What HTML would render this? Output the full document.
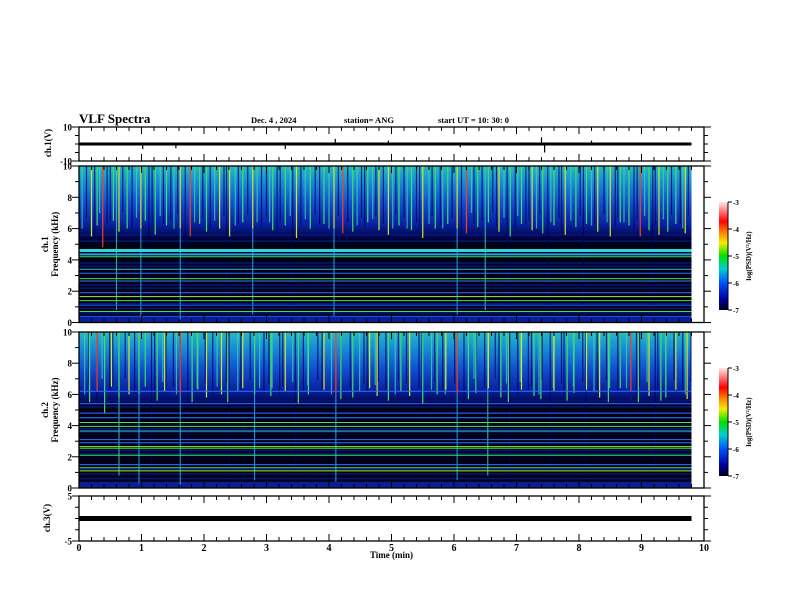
<!DOCTYPE html>
<html><head><meta charset="utf-8"><style>
html,body{margin:0;padding:0;background:#fff}
svg{display:block;font-family:"Liberation Serif",serif;font-weight:bold}
</style></head><body>
<svg id="c" width="792" height="612" viewBox="0 0 792 612">
<defs>
<linearGradient id="upper" x1="0" y1="1" x2="0" y2="0">
<stop offset="0" stop-color="#000040"/><stop offset="0.2" stop-color="#0820a0"/><stop offset="0.5" stop-color="#1050d0"/><stop offset="0.8" stop-color="#1890d8"/><stop offset="1" stop-color="#28b8c0"/></linearGradient>
<linearGradient id="cbar" x1="0" y1="1" x2="0" y2="0">
<stop offset="0" stop-color="#000020"/><stop offset="0.1" stop-color="#0000a0"/><stop offset="0.25" stop-color="#0050ff"/><stop offset="0.38" stop-color="#00d0d0"/><stop offset="0.5" stop-color="#00e000"/><stop offset="0.62" stop-color="#f0f000"/><stop offset="0.72" stop-color="#ff8000"/><stop offset="0.82" stop-color="#ff0000"/><stop offset="1" stop-color="#ffe8e8"/></linearGradient>
</defs>
<text x="79" y="123" font-size="13">VLF Spectra</text>
<text x="251" y="123" font-size="8.5">Dec. 4  , 2024</text>
<text x="344" y="123" font-size="8.5">station= ANG</text>
<text x="438" y="123" font-size="8.5">start  UT =   10: 30: 0</text>
<g id="g"></g>
</svg>
<script>
const minutes=[0,1,2,3,4,5,6,7,8,9,10];
const ch1Bands=[{f:4.6,c:"#30d8d0",w:3},{f:4.35,c:"#20a8e0",w:2},{f:4.2,c:"#40e060",w:1},{f:3.4,c:"#30c0e0",w:1},{f:3.15,c:"#3070ff",w:1},{f:2.8,c:"#40e040",w:1},{f:2.65,c:"#3080ff",w:1},{f:1.9,c:"#3070ff",w:1},{f:1.65,c:"#a0f020",w:1},{f:1.4,c:"#40e060",w:1},{f:1.1,c:"#2050ff",w:1},{f:0.7,c:"#40e060",w:1},{f:0.4,c:"#2050ff",w:1}];
const ch2Bands=[{f:6.2,c:"#3070ff",w:1},{f:5.4,c:"#3070ff",w:1},{f:4.8,c:"#3070ff",w:1},{f:4.5,c:"#3080ff",w:1},{f:4.2,c:"#40e060",w:1},{f:3.95,c:"#50e050",w:1},{f:3.65,c:"#30c0e0",w:1},{f:3.1,c:"#3070ff",w:1},{f:2.9,c:"#3070ff",w:1},{f:2.65,c:"#80f020",w:1},{f:2.55,c:"#40e060",w:1},{f:2.1,c:"#40e060",w:1},{f:1.5,c:"#3070ff",w:1},{f:1.3,c:"#40e060",w:1},{f:1.1,c:"#a0f020",w:1}];
const faintBands=[5.9,5.6,5.2,3.8,3.6,2.4,2.2,1.2,0.9,0.6];
const spikeTimes=[0.2,0.29,0.38,0.55,0.64,0.77,0.99,1.06,1.22,1.4,1.62,1.78,1.93,2.04,2.25,2.41,2.62,2.78,3.1,3.3,3.48,3.7,3.92,4.08,4.22,4.38,4.62,4.8,4.95,5.12,5.32,5.5,5.7,5.9,6.05,6.2,6.38,6.55,6.72,6.9,7.08,7.25,7.42,7.6,7.78,7.95,8.12,8.3,8.5,8.66,8.8,8.98,9.12,9.28,9.42,9.55,9.7];
const spikeLevel=[2,1,3,1,2,1,2,1,1,1,2,3,1,1,2,2,1,2,1,1,2,1,1,2,3,1,1,2,2,1,1,2,1,1,2,3,1,1,2,1,1,2,1,1,2,1,1,2,2,1,1,3,1,2,1,1,2];
const spikeBottom=[5.5,6.2,4.8,6.5,5.8,6,0.3,6.5,5.6,6.2,0.2,5.5,6.3,5.8,6,5.5,6.4,0.5,5.9,6.2,5.4,6,6.3,0.4,5.7,5.8,6.4,5.9,5.6,6.2,5.9,5.4,6,6.3,0.5,5.7,6.1,6.4,5.8,5.5,6.3,5.9,5.7,6.2,5.6,6.1,6.3,5.8,5.5,6.4,6.2,5.5,5.9,5.6,5.8,6.3,5.7];
const streakTimes=[0.05,0.12,0.25,0.33,0.45,0.5,0.6,0.7,0.85,0.92,1.12,1.17,1.3,1.35,1.47,1.52,1.58,1.7,1.85,1.98,2.1,2.17,2.32,2.36,2.5,2.55,2.7,2.85,2.92,3.0,3.05,3.17,3.22,3.38,3.42,3.55,3.62,3.78,3.85,4.0,4.15,4.3,4.45,4.52,4.57,4.7,4.75,4.87,5.02,5.07,5.2,5.25,5.4,5.45,5.6,5.65,5.78,5.82,5.97,6.12,6.28,6.32,6.45,6.5,6.62,6.68,6.8,6.85,6.98,7.02,7.15,7.2,7.32,7.37,7.5,7.55,7.68,7.72,7.87,8.02,8.07,8.2,8.25,8.4,8.45,8.58,8.62,8.72,8.88,8.93,9.05,9.18,9.22,9.35,9.48,9.62,9.66,9.75];
const ch1Glitch=[{t:1.02,v:-3},{t:1.55,v:-2.5},{t:3.3,v:-3},{t:4.1,v:3},{t:4.95,v:2},{t:6.1,v:-2},{t:7.4,v:4},{t:7.45,v:-5},{t:8.2,v:2}];
const dataEnd=9.8;
const NS="http://www.w3.org/2000/svg",G=document.getElementById('g');
const X0=79,X1=704;
const xs=t=>X0+(X1-X0)*t/10;
function el(tag,a,name,parent){const e=document.createElementNS(NS,tag);for(const k in a)e.setAttribute(k,a[k]);


(parent||G).appendChild(e);return e;}
function txt(x,y,s,size,anchor,name,rot){const e=el('text',{x:x,y:y,'font-size':size,'text-anchor':anchor||'start'},name);if(rot)e.setAttribute('transform',`rotate(-90 ${x} ${y})`);e.textContent=s;return e;}
function frame(top,bot,name,ymin,ymax,yticksMaj,yminor){
 el('rect',{x:X0,y:top,width:X1-X0,height:bot-top,fill:'none',stroke:'#000','stroke-width':1.3},name+'-frame');
 const ys=v=>bot-(bot-top)*(v-ymin)/(ymax-ymin);
 for(let i=0;i<=50;i++){const x=xs(i/5);const L=i%5===0?7:4;
  el('line',{x1:x,x2:x,y1:top,y2:top+L,stroke:'#000','stroke-width':1},name+'-xtick');
  el('line',{x1:x,x2:x,y1:bot,y2:bot-L,stroke:'#000','stroke-width':1},name+'-xtick');}
 for(let v=ymin;v<=ymax+1e-9;v+=yminor){const y=ys(v);const maj=yticksMaj.some(m=>Math.abs(m-v)<1e-6);const L=maj?7:4;
  el('line',{x1:X0,x2:X0-L,y1:y,y2:y,stroke:'#000'},name+'-ytick');
  el('line',{x1:X1,x2:X1+L,y1:y,y2:y,stroke:'#000'},name+'-ytick');}
 yticksMaj.forEach(m=>txt(X0-7,ys(m)+3.5,String(m),9,'end',name+'-ytick-label'));
 return ys;}
const p1=frame(127,161,'ch1-wave-panel',-10,10,[10,-10],5);
el('rect',{x:X0,y:p1(0)-1.5,width:xs(dataEnd)-X0,height:3,fill:'#000'},'ch1-waveform');
ch1Glitch.forEach(g=>el('line',{x1:xs(g.t),x2:xs(g.t),y1:p1(0),y2:p1(g.v),stroke:'#000','stroke-width':1.2},'ch1-glitch'));
txt(51,143,'ch.1(V)',9,'middle','ch1-wave-ylabel',true);
function spectro(top,bot,bands,name,label,offset){
 const ys=v=>bot-(bot-top)*v/10;const xe=xs(dataEnd);
 el('rect',{x:X0,y:top,width:xe-X0,height:bot-top,fill:'#000018'},name+'-background');
 el('rect',{x:X0,y:ys(10),width:xe-X0,height:ys(5.3)-ys(10),fill:'url(#upper)'},name+'-upper-band');
 el('rect',{x:X0,y:ys(0.4),width:xe-X0,height:ys(0)-ys(0.4),fill:'#0a2090'},name+'-low-band');
 faintBands.forEach(f=>el('line',{x1:X0,x2:xe,y1:ys(f),y2:ys(f),stroke:'#061870','stroke-width':1.5},name+'-faint-band'));
 streakTimes.forEach((t,i)=>{const tt=t+offset*0.04;if(tt>dataEnd)return;
  el('line',{x1:xs(tt),x2:xs(tt),y1:ys(10),y2:ys(spikeBottom[i%spikeBottom.length]+0.5),stroke:i%3===0?'#40d8a0':'#000060','stroke-width':1.2,opacity:0.75},name+'-streak');});
 const cols=["#20c0e0","#40e060","#d0e820","#ff4010"];
 spikeTimes.forEach((t,i)=>{const tt=Math.min(dataEnd-0.02,t+offset*((i%3)-1)*0.03);const lv=spikeLevel[(i+offset)%spikeLevel.length];const b=spikeBottom[i];
  el('line',{x1:xs(tt),x2:xs(tt),y1:ys(10),y2:ys(b<1?6:b),stroke:cols[lv],'stroke-width':1.2},name+'-spike');
  if(b<1)el('line',{x1:xs(tt),x2:xs(tt),y1:ys(6),y2:ys(b),stroke:'#20a0e0','stroke-width':1},name+'-spike-tail');});
 bands.forEach(b=>el('line',{x1:X0,x2:xe,y1:ys(b.f),y2:ys(b.f),stroke:b.c,'stroke-width':b.w},name+'-band-line'));
 el('rect',{x:xe,y:top,width:X1-xe,height:bot-top,fill:'#fff'},name+'-empty');
 frame(top,bot,name,0,10,[0,2,4,6,8,10],1);
 const cy=(top+bot)/2;txt(48,cy,label,9,'middle',name+'-ylabel',true);txt(58,cy,'Frequency (kHz)',9,'middle',name+'-ylabel',true);
 const ct=top+36,cb=top+144;
 el('rect',{x:719,y:ct,width:9,height:cb-ct,fill:'url(#cbar)'},name+'-colorbar');
 el('line',{x1:728,x2:728,y1:ct,y2:cb,stroke:'#000'},name+'-colorbar-axis');
 [-3,-4,-5,-6,-7].forEach(v=>{const y=cb-(cb-ct)*(v+7)/4;el('line',{x1:728,x2:732,y1:y,y2:y,stroke:'#000'},name+'-colorbar-tick');txt(733,y+3,String(v),7,'start',name+'-colorbar-label');});
 txt(751,(ct+cb)/2,'log(PSD)(V²/Hz)',7,'middle',name+'-colorbar-title',true);
}
spectro(166,322.5,ch1Bands,'ch1-spectrogram','ch.1',0);
spectro(332,488,ch2Bands,'ch2-spectrogram','ch.2',1);
const p4=frame(496,541,'ch3-panel',-5,5,[5,-5],2.5);
el('rect',{x:X0,y:p4(0)-2.5,width:xs(dataEnd)-X0,height:5,fill:'#000'},'ch3-waveform');
txt(50,518,'ch.3(V)',9,'middle','ch3-ylabel',true);
minutes.forEach(m=>txt(xs(m),551,String(m),10,'middle','x-tick-label'));
txt(xs(5),558,'Time (min)',9,'middle','x-axis-title');
</script>
</body></html>
